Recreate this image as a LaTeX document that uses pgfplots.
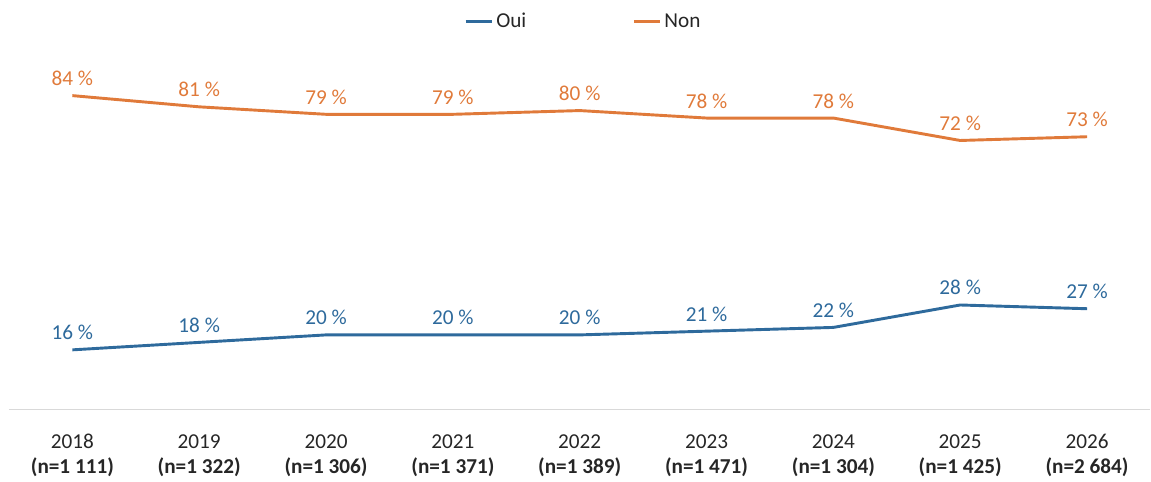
\documentclass[border=0pt]{standalone}
\usepackage{pgfplots}
\pgfplotsset{compat=1.18}
\usepackage{fontspec}
\setmainfont{Carlito}
\definecolor{cblue}{HTML}{2E6A9C}
\definecolor{corange}{HTML}{E07A3A}
\definecolor{ctxt}{HTML}{262626}
\begin{document}
\begin{tikzpicture}
\begin{axis}[
  name=ax,
  scale only axis,
  width=861pt, height=253.8pt,
  xmin=-0.5, xmax=8.5, ymin=0, ymax=90,
  axis y line=none,
  axis x line*=bottom,
  x axis line style={draw=black!15, line width=0.8pt, -},
  xtick={0,1,2,3,4,5,6,7,8},
  xticklabels={{2018\\\textbf{(n=1 111)}},{2019\\\textbf{(n=1 322)}},{2020\\\textbf{(n=1 306)}},{2021\\\textbf{(n=1 371)}},{2022\\\textbf{(n=1 389)}},{2023\\\textbf{(n=1 471)}},{2024\\\textbf{(n=1 304)}},{2025\\\textbf{(n=1 425)}},{2026\\\textbf{(n=2 684)}}},
  xticklabel style={align=center, font=\fontsize{16}{19}\selectfont, text=ctxt, yshift=-15pt},
  major tick length=0pt,
  clip=false,
  legend style={at={(0.5,1)}, anchor=center, yshift=39pt, xshift=3pt, draw=none, fill=none, font=\fontsize{16}{19}\selectfont, text=ctxt},
  legend columns=2,
  legend cell align=left,
  /tikz/every even column/.append style={column sep=78pt},
  legend image code/.code={\draw[#1, line width=2.2pt] (0pt,0pt) -- (20pt,0pt);},
  nodes near coords={\pgfmathprintnumber[assume math mode=true]{\pgfplotspointmeta}~\%},
  every node near coord/.append style={font=\fontsize{16}{19}\selectfont, anchor=south, yshift=3pt},
]
\addplot[cblue, line width=2.2pt, mark=none, every node near coord/.append style={text=cblue}] coordinates {
(0,16) (1,18) (2,20) (3,20) (4,20) (5,21) (6,22) (7,28) (8,27)};
\addlegendentry{Oui}
\addplot[corange, line width=2.2pt, mark=none, every node near coord/.append style={text=corange}] coordinates {
(0,84) (1,81) (2,79) (3,79) (4,80) (5,78) (6,78) (7,72) (8,73)};
\addlegendentry{Non}
\end{axis}
\path[use as bounding box] ([xshift=-6.75pt, yshift=-52.5pt]ax.south west) rectangle ([xshift=-4.5pt, yshift=55.2pt]ax.north east);
\end{tikzpicture}
\end{document}
